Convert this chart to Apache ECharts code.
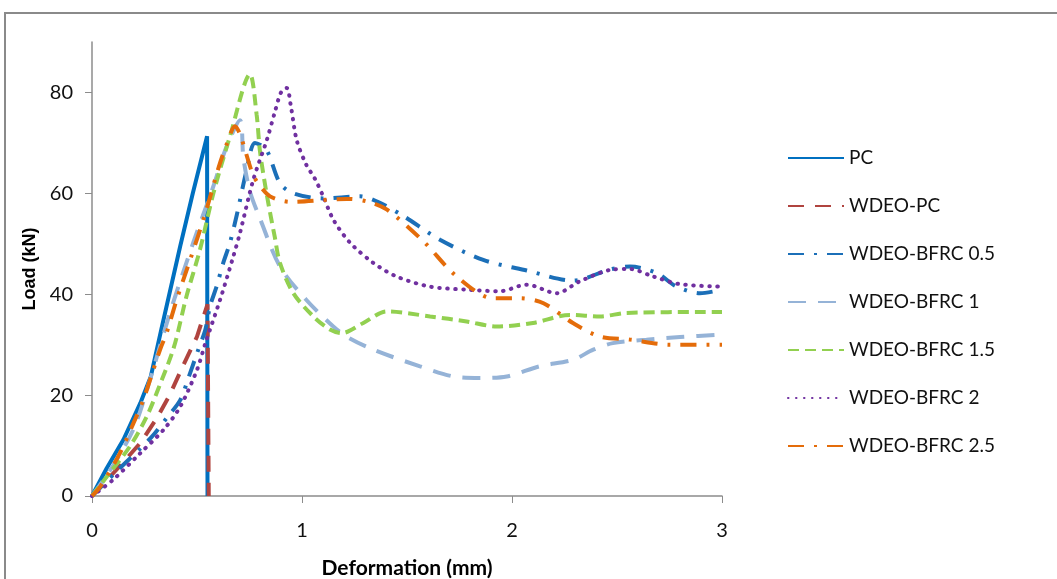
<!DOCTYPE html>
<html>
<head>
<meta charset="utf-8">
<script src="https://cdn.jsdelivr.net/npm/echarts@6/dist/echarts.min.js"></script>
<style>
  html, body { margin: 0; padding: 0; background: #fff; }
  #container { width: 1057px; height: 579px; }
</style>
</head>
<body>
<div id="container"></div>
<script>
// [deformation (mm), load (kN)]
const pc = [[0, 0], [0.07, 5.5], [0.15, 11.2], [0.23, 18.4], [0.28, 23.7], [0.33, 33], [0.42, 49.5], [0.48, 60], [0.548, 71.3], [0.55, 0]]
const wdeoPc = [[0, 0], [0.13, 5.8], [0.23, 10.5], [0.31, 15.5], [0.37, 20], [0.43, 25.5], [0.5, 31.6], [0.55, 38], [0.556, 0]]
const bfrc05 = [[0, 0], [0.12, 5], [0.28, 11.5], [0.36, 15.7], [0.42, 19], [0.46, 23.5], [0.5, 28.3], [0.54, 33], [0.562, 37.6], [0.593, 41.5], [0.625, 46.2], [0.657, 50.2], [0.69, 55.8], [0.737, 64.7], [0.776, 70], [0.83, 68.7], [0.895, 62], [0.96, 60], [1.1, 59], [1.276, 59.4], [1.371, 58.1], [1.483, 55.5], [1.657, 50.8], [1.863, 46.8], [2.07, 44.7], [2.29, 42.7], [2.467, 44.9], [2.562, 45.5], [2.69, 44.2], [2.78, 41.6], [2.895, 40.2], [3, 40.9]]
const bfrc1 = [[0, 0], [0.1, 6], [0.2, 13.5], [0.276, 23], [0.371, 36.3], [0.482, 50.2], [0.578, 61.4], [0.641, 69.3], [0.705, 74.5], [0.721, 67], [0.752, 60.4], [0.8, 55], [0.895, 45.5], [1.02, 38.9], [1.149, 33.6], [1.213, 31.6], [1.34, 29], [1.562, 25.7], [1.72, 23.7], [1.848, 23.4], [1.975, 23.7], [2.13, 25.7], [2.29, 27], [2.387, 29], [2.48, 30.3], [2.64, 31], [2.8, 31.5], [3, 32]]
const bfrc15 = [[0, 0], [0.07, 3.8], [0.18, 9.8], [0.26, 15.7], [0.32, 21.7], [0.39, 29.5], [0.45, 39.6], [0.514, 48.8], [0.578, 60], [0.657, 71.3], [0.752, 83.6], [0.784, 75.6], [0.8, 68.3], [0.832, 59.8], [0.871, 51.2], [0.895, 46.2], [0.959, 40.2], [1.054, 35.6], [1.133, 33], [1.19, 32.3], [1.292, 34.3], [1.403, 36.6], [1.61, 35.6], [1.784, 34.6], [1.927, 33.6], [2.1, 34.3], [2.276, 35.9], [2.42, 35.6], [2.546, 36.3], [3, 36.5]]
const bfrc2 = [[0, 0], [0.1, 3.2], [0.23, 8.5], [0.34, 13.1], [0.42, 17.7], [0.5, 25], [0.54, 30.3], [0.61, 38.9], [0.673, 47.5], [0.705, 52.2], [0.768, 62.7], [0.832, 70.5], [0.87, 76], [0.9, 80], [0.927, 80.9], [0.948, 77], [0.975, 70.5], [1.02, 65.7], [1.06, 63], [1.1, 59.5], [1.149, 54.8], [1.229, 50.2], [1.34, 46.2], [1.451, 43.5], [1.61, 41.5], [1.784, 40.9], [1.943, 40.6], [2.07, 41.9], [2.213, 40.2], [2.32, 42.5], [2.48, 44.9], [2.562, 45], [2.673, 43.5], [2.8, 42], [3, 41.5]]
const bfrc25 = [[0, 0], [0.04, 1.9], [0.133, 8.5], [0.197, 14.4], [0.244, 19], [0.292, 25], [0.324, 29], [0.355, 32.3], [0.403, 38.9], [0.467, 46.8], [0.538, 55.8], [0.602, 65], [0.641, 69.7], [0.681, 73.3], [0.705, 71.7], [0.76, 64.4], [0.784, 62.4], [0.848, 59.4], [0.95, 58.3], [1.213, 58.9], [1.308, 58.4], [1.403, 56.8], [1.578, 50.5], [1.737, 43.5], [1.91, 39.2], [2.04, 39.2], [2.15, 38.2], [2.29, 34.3], [2.42, 31.6], [2.562, 31], [2.75, 30], [3, 30]]

const names = ['PC', 'WDEO-PC', 'WDEO-BFRC 0.5', 'WDEO-BFRC 1', 'WDEO-BFRC 1.5', 'WDEO-BFRC 2', 'WDEO-BFRC 2.5']
const yTicks = [0, 20, 40, 60, 80]

const font = 'Lato, "Liberation Sans", Arial, sans-serif'

function line(name, data, color, type, smooth, cap) {
    return {
        name: name,
        type: 'line',
        data: data,
        symbol: 'none',
        smooth: smooth,
        lineStyle: {color: color, width: 4, type: type, cap: cap || 'butt'},
        itemStyle: {color: color}
    }
}

let option = {
    animation: false,
    backgroundColor: '#fff',
    graphic: [{
        type: 'rect',
        shape: {x: 5, y: 13, width: 1070, height: 600},
        style: {fill: 'none', stroke: '#8a8a8a', lineWidth: 2}
    }],
    grid: {left: 92, right: 335, top: 42, bottom: 83, outerBoundsMode: 'none', containLabel: false},
    legend: {
        orient: 'vertical',
        left: 782,
        top: 141,
        itemWidth: 56,
        itemHeight: 14,
        itemGap: 24,
        data: names,
        itemStyle: {opacity: 0},
        textStyle: {fontFamily: font, fontSize: 19, lineHeight: 24, color: '#111'}
    },
    xAxis: {
        type: 'value',
        min: 0, max: 3, interval: 1,
        name: 'Deformation (mm)',
        nameLocation: 'middle',
        nameGap: 62,
        nameTextStyle: {fontFamily: font, fontSize: 21, fontWeight: 'bold', color: '#000'},
        axisLine: {show: true, lineStyle: {color: '#8c8c8c', width: 1.5}},
        axisTick: {show: true, length: 7, lineStyle: {color: '#8c8c8c'}},
        axisLabel: {fontFamily: font, fontSize: 20, color: '#111', margin: 25},
        splitLine: {show: false}
    },
    yAxis: {
        type: 'value',
        min: 0, max: 90, interval: 10,
        name: 'Load (kN)',
        nameLocation: 'middle',
        nameGap: 50,
        nameTextStyle: {fontFamily: '"Liberation Sans", Arial, sans-serif', fontSize: 18, fontWeight: 'bold', color: '#000'},
        axisLine: {show: true, lineStyle: {color: '#8c8c8c', width: 1.5}},
        axisTick: {show: true, length: 7, customValues: yTicks, lineStyle: {color: '#8c8c8c'}},
        axisLabel: {fontFamily: font, fontSize: 20, color: '#111', margin: 19, customValues: yTicks},
        splitLine: {show: false}
    },
    series: [
        line(names[0], pc, '#0070C0', 'solid', false),
        line(names[1], wdeoPc, '#B0443F', [16, 11], false),
        line(names[2], bfrc05, '#1B6FB8', [16, 10, 3, 10], 0.3),
        line(names[3], bfrc1, '#95B3D7', [18, 12], 0.3),
        line(names[4], bfrc15, '#92D050', [11, 6], 0.3),
        line(names[5], bfrc2, '#7030A0', [0.5, 7.5], 0.3, 'round'),
        line(names[6], bfrc25, '#E46C0A', [16, 10, 3, 10], 0.3)
    ]
};
var myChart = echarts.init(document.getElementById('container'));
myChart.setOption(option);
</script>
</body>
</html>
